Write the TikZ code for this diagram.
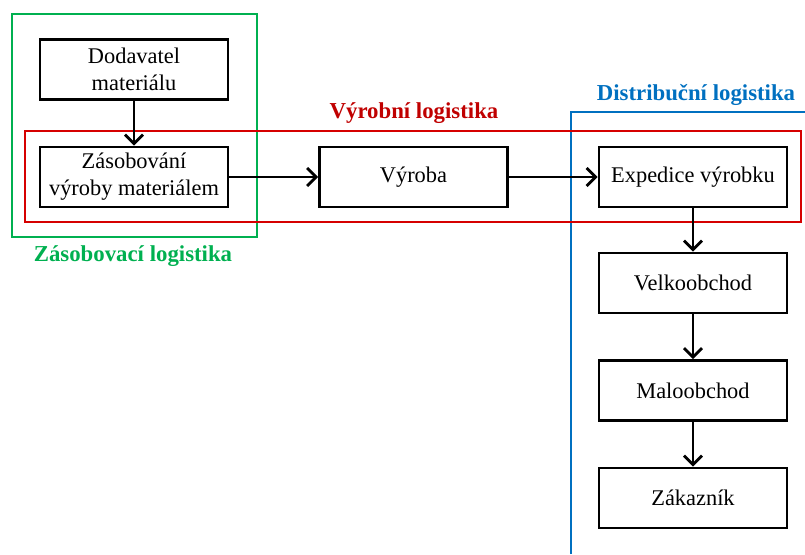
\documentclass[tikz,border=0pt]{standalone}
\usepackage{fontspec}
\setmainfont{Liberation Serif}
\usetikzlibrary{arrows.meta}
\definecolor{zelena}{RGB}{0,176,80}
\definecolor{cervena}{RGB}{214,0,0}
\definecolor{tmavocervena}{RGB}{192,0,0}
\definecolor{modra}{RGB}{0,112,192}
\begin{document}
\begin{tikzpicture}[x=0.5pt, y=-0.5pt,
	krok/.style = {draw, line width=1.4pt, fill=white, minimum width=94pt, minimum height=30pt, inner sep=1pt, align=center, font=\fontsize{11.2}{13.5}\selectfont},
	sipka/.style = {line width=1.4pt, -{Straight Barb[length=4.5pt, width=9pt]}},
	oblast/.style = {line width=1.2pt},
	nadpis/.style = {font=\fontsize{11.4}{13}\selectfont\bfseries}]
	\useasboundingbox (0,0) rectangle (805,554);
	
	% oblasti
	\draw[oblast, zelena] (12,14) rectangle (257,237);
	\draw[oblast, modra] (571,554) -- (571,112) -- (805,112);
	\draw[oblast, cervena] (25,131) rectangle (801,222);
	
	\node[nadpis, text=zelena] (zasLog) at (133,256) {Zásobovací logistika};
	\node[nadpis, text=tmavocervena] (vyrLog) at (414,113) {Výrobní logistika};
	\node[nadpis, text=modra] (disLog) at (696,95) {Distribuční logistika};
	
	% kroky
	\node[krok] (dodavatel) at (134,69.5) {Dodavatel\\materiálu};
	\node[krok] (zasobovani) at (134,177) {Zásobování\\výroby materiálem};
	\node[krok] (vyroba) at (413.5,177) {Výroba};
	\node[krok] (expedice) at (693,177) {Expedice výrobku};
	\node[krok] (velkoobchod) at (693,283) {Velkoobchod};
	\node[krok] (maloobchod) at (693,390.5) {Maloobchod};
	\node[krok] (zakaznik) at (693,498) {Zákazník};
	
	% sipky
	\draw[sipka] (dodavatel) -- (zasobovani);
	\draw[sipka] (zasobovani) -- (vyroba);
	\draw[sipka] (vyroba) -- (expedice);
	\draw[sipka] (expedice) -- (velkoobchod);
	\draw[sipka] (velkoobchod) -- (maloobchod);
	\draw[sipka] (maloobchod) -- (zakaznik);
	
\end{tikzpicture}
\end{document}
